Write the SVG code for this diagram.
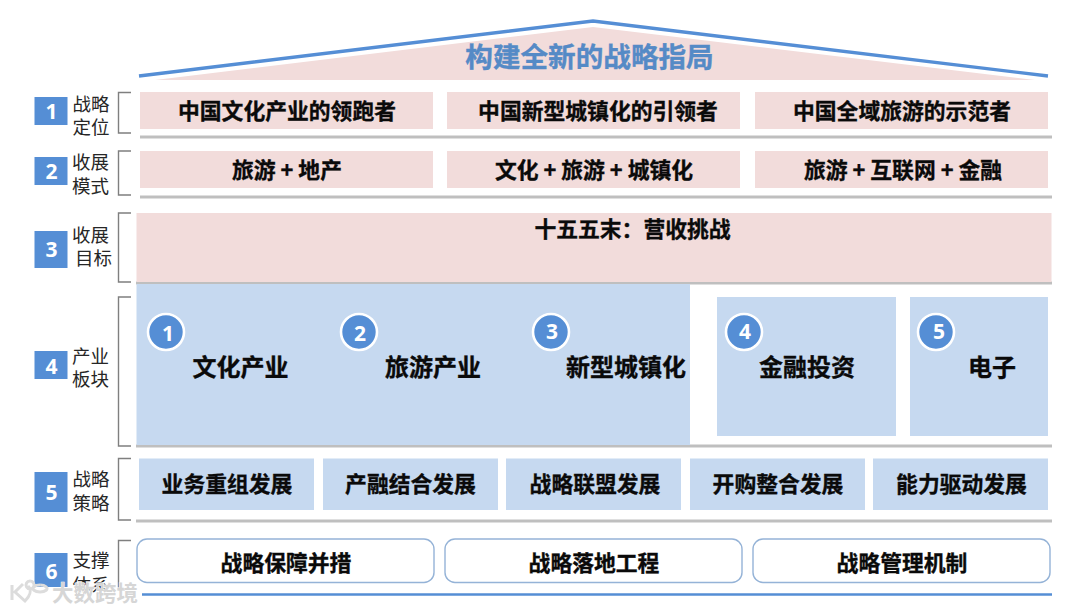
<svg xmlns="http://www.w3.org/2000/svg" width="1080" height="612" viewBox="0 0 1080 612">
<style>
text{font-family:"Noto Sans CJK SC","Noto Sans",sans-serif}
.p{fill:#f2dcdb}.b{fill:#c6d9f0}
.t{font-size:21.8px;font-weight:700;fill:#0a0a0a;text-anchor:middle;stroke:#0a0a0a;stroke-width:.35px}
.t2{font-size:24px;font-weight:700;fill:#0a0a0a;text-anchor:middle;stroke:#0a0a0a;stroke-width:.35px}
.l{font-size:18.5px;fill:#262626;text-anchor:middle}
.sq{fill:#558ed5}
.n{font-family:"Open Sans",sans-serif;font-size:21px;font-weight:700;fill:#fff;text-anchor:middle}
.br{fill:none;stroke:#7f7f7f;stroke-width:1.4}
.sep{stroke:#bfbfbf;stroke-width:2.8;fill:none}
.c{fill:#558ed5;stroke:#fff;stroke-width:2.6}
.o{fill:#fff;stroke:#95b3d7;stroke-width:1.4}
</style>
<g id="roof">
<polygon class="p" points="155,80 593,27 1035,80"/>
<polyline points="139,76 593,21 1048,76" fill="none" stroke="#558ed5" stroke-width="3.400"/>
<text x="589.500" y="67" font-size="27.600" font-weight="700" fill="#558ac6" stroke="#558ac6" stroke-width="0.400" text-anchor="middle">构建全新的战略指局</text>
</g>
<g id="connectors">
<path class="br" d="M131,92.500H118.500V133H131"/>
<path class="br" d="M131,151H118.500V195H131"/>
<path class="br" d="M131,213H118.500V282H131"/>
<path class="br" d="M131,297H118.500V446H131"/>
<path class="br" d="M131,458.500H118.500V520H131"/>
<path class="br" d="M131,540.500H118.500V590H131"/>
<path class="sep" d="M140,137H1052M140,197H1052M136,283H1052M136,446H1052M136,521H1052"/>
<path d="M142,594.500H1052" stroke="#558ed5" stroke-width="2.600"/>
</g>
<g id="label-1"><rect class="sq" x="34.500" y="97" width="33" height="28"/><text class="n" x="51.500" y="119">1</text><text class="l" x="91" y="111">战略</text><text class="l" x="91" y="134">定位</text></g>
<g id="label-2"><rect class="sq" x="34.500" y="157" width="33" height="28"/><text class="n" x="51.500" y="179">2</text><text class="l" x="90.500" y="169">收展</text><text class="l" x="90.500" y="193">模式</text></g>
<g id="label-3"><rect class="sq" x="34.500" y="231" width="33" height="37"/><text class="n" x="51.500" y="257">3</text><text class="l" x="90.500" y="242">收展</text><text class="l" x="93.500" y="265">目标</text></g>
<g id="label-4"><rect class="sq" x="34.500" y="351" width="33" height="28"/><text class="n" x="51.500" y="374">4</text><text class="l" x="90.500" y="363">产业</text><text class="l" x="90.500" y="386">板块</text></g>
<g id="label-5"><rect class="sq" x="34.500" y="472" width="33" height="40"/><text class="n" x="51.500" y="500">5</text><text class="l" x="91" y="486">战略</text><text class="l" x="91" y="510">策略</text></g>
<g id="label-6"><rect class="sq" x="34.500" y="553" width="33" height="34"/><text class="n" x="51.500" y="579">6</text><text class="l" x="91" y="567">支撑</text><text class="l" x="91" y="592">体系</text></g>
<g id="pos-1"><rect class="p" x="140" y="92" width="293" height="37"/><text class="t" x="287" y="119">中国文化产业的领跑者</text></g>
<g id="pos-2"><rect class="p" x="447" y="92" width="293" height="37"/><text class="t" x="598" y="119">中国新型城镇化的引领者</text></g>
<g id="pos-3"><rect class="p" x="755" y="92" width="293" height="37"/><text class="t" x="902" y="119">中国全域旅游的示范者</text></g>
<g id="mode-1"><rect class="p" x="140" y="151" width="293" height="37"/><text class="t" x="287" y="178">旅游 + 地产</text></g>
<g id="mode-2"><rect class="p" x="447" y="151" width="293" height="37"/><text class="t" x="594" y="178">文化 + 旅游 + 城镇化</text></g>
<g id="mode-3"><rect class="p" x="755" y="151" width="293" height="37"/><text class="t" x="903" y="178">旅游 + 互联网 + 金融</text></g>
<g id="goal"><rect class="p" x="136.500" y="213" width="915" height="69"/><text class="t" x="632.500" y="237">十五五末：营收挑战</text></g>
<g id="sector-main"><rect class="b" x="136.500" y="284" width="553.500" height="161"/></g>
<g id="sector-1"><circle class="c" cx="166" cy="332" r="18"/><text class="n" x="168" y="341">1</text><text class="t2" x="240.500" y="376">文化产业</text></g>
<g id="sector-2"><circle class="c" cx="359" cy="332" r="18"/><text class="n" x="360" y="341">2</text><text class="t2" x="433" y="376">旅游产业</text></g>
<g id="sector-3"><circle class="c" cx="551" cy="332" r="18"/><text class="n" x="552" y="339">3</text><text class="t2" x="626" y="376">新型城镇化</text></g>
<g id="sector-4"><rect class="b" x="717" y="297" width="179" height="139"/><circle class="c" cx="744" cy="332" r="18"/><text class="n" x="745" y="339">4</text><text class="t2" x="807" y="376">金融投资</text></g>
<g id="sector-5"><rect class="b" x="910" y="297" width="138" height="139"/><circle class="c" cx="936" cy="332" r="18"/><text class="n" x="939" y="339">5</text><text class="t2" x="992" y="376">电子</text></g>
<g id="strategy-1"><rect class="b" x="139" y="458.500" width="175" height="51.500"/><text class="t" x="227" y="492">业务重组发展</text></g>
<g id="strategy-2"><rect class="b" x="323" y="458.500" width="175" height="51.500"/><text class="t" x="410.500" y="492">产融结合发展</text></g>
<g id="strategy-3"><rect class="b" x="506" y="458.500" width="175" height="51.500"/><text class="t" x="595" y="492">战略联盟发展</text></g>
<g id="strategy-4"><rect class="b" x="690" y="458.500" width="175" height="51.500"/><text class="t" x="778" y="492">开购整合发展</text></g>
<g id="strategy-5"><rect class="b" x="873" y="458.500" width="175" height="51.500"/><text class="t" x="961.500" y="492">能力驱动发展</text></g>
<g id="support-1"><rect class="o" x="137" y="539" width="297" height="43.500" rx="10"/><text class="t" x="286" y="571">战略保障并措</text></g>
<g id="support-2"><rect class="o" x="445" y="539" width="297" height="43.500" rx="10"/><text class="t" x="594" y="571">战略落地工程</text></g>
<g id="support-3"><rect class="o" x="753" y="539" width="297" height="43.500" rx="10"/><text class="t" x="902" y="571">战略管理机制</text></g>
<g id="watermark">
<path d="M12,585V600M23,584L15,592L25,601C30,596 32,590 28,586M30,581a4,4 0 1 0 0.100,0M40,585a7,3.500 0 1 0 0.100,0" fill="none" stroke="#dcdcdc" stroke-width="3"/>
<text x="52" y="601" font-size="21.500" font-weight="700" fill="#d6d6d6" stroke="#fff" stroke-width="0.800" paint-order="stroke">大数跨境</text>
</g>
</svg>
